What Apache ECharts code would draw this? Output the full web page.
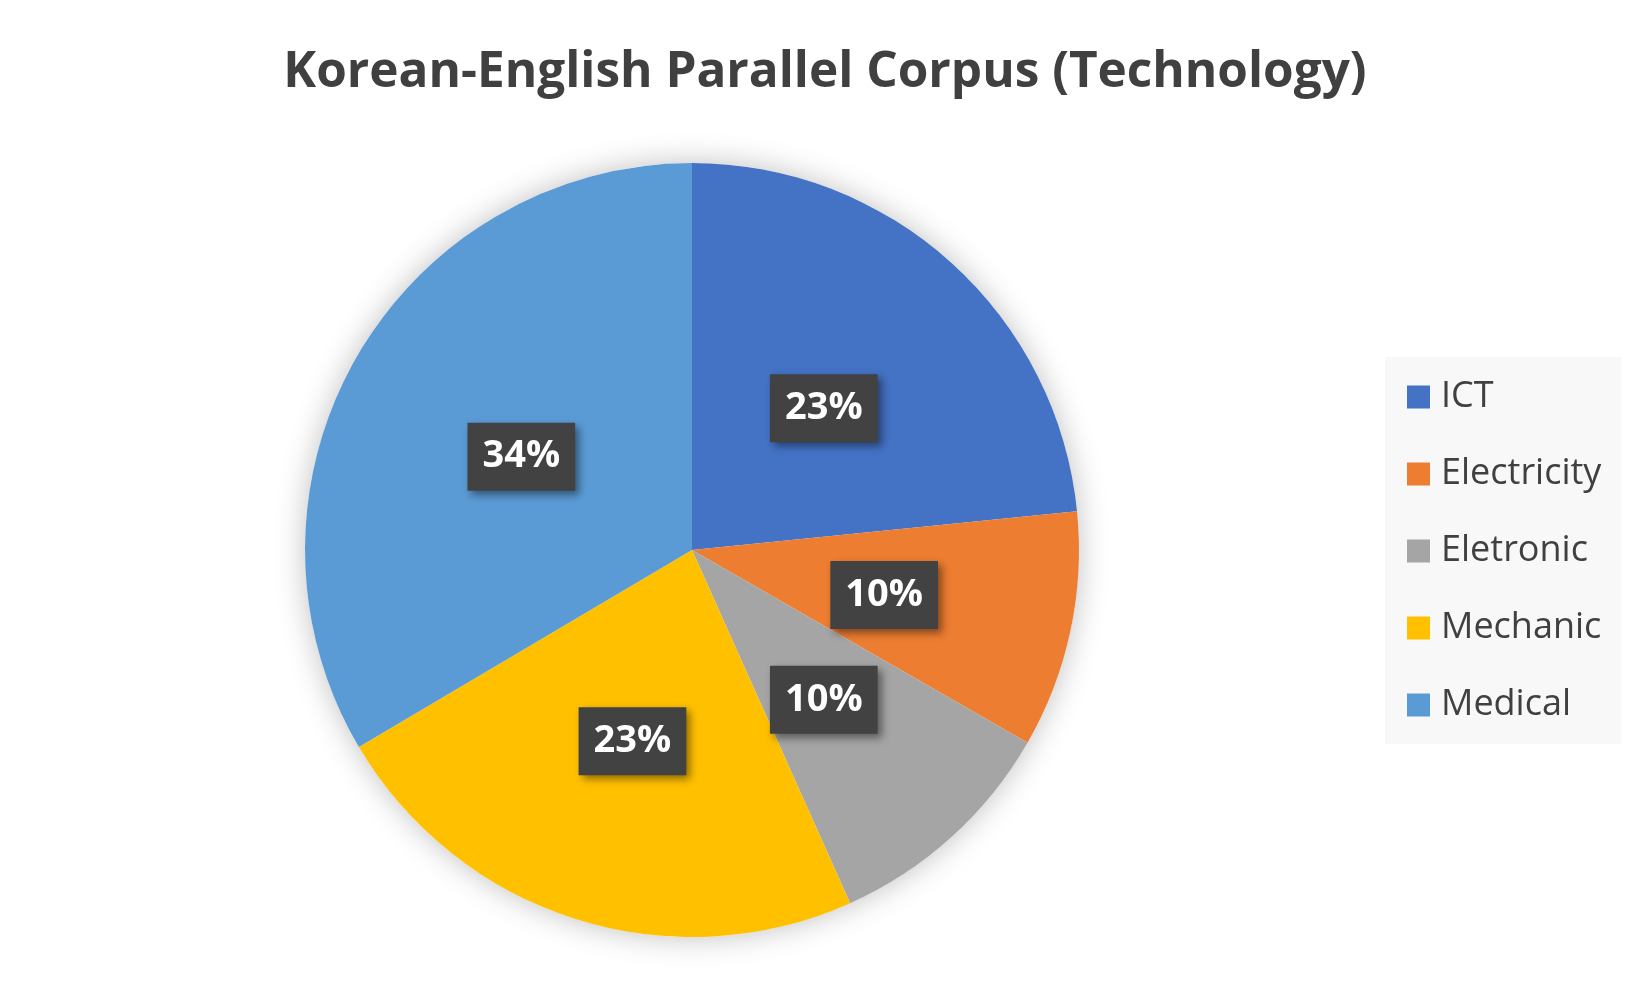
<!DOCTYPE html>
<html>
<head>
    <meta charset="utf-8">
    <title>Korean-English Parallel Corpus</title>
    <script src="https://cdn.jsdelivr.net/npm/echarts@6/dist/echarts.min.js"></script>
    <style>
        html, body { margin: 0; padding: 0; background: #ffffff; }
        #chart { width: 1650px; height: 990px; }
    </style>
</head>
<body>
<div id="chart"></div>
<script>
    // 数据
    var categories = ['ICT', 'Electricity', 'Eletronic', 'Mechanic', 'Medical'];
    var shares = [23.4, 9.9, 10.0, 23.2, 33.5];
    var colors = ['#4472C4', '#ED7D31', '#A5A5A5', '#FFC000', '#5B9BD5'];

    var pieData = categories.map(function (name, i) {
        return { name: name, value: shares[i], itemStyle: { color: colors[i] } };
    });
    var total = shares.reduce(function (a, b) { return a + b; }, 0);

    var chart = echarts.init(document.getElementById('chart'));
    var option = {
        backgroundColor: '#ffffff',
        animation: false,
        title: {
            text: 'Korean-English Parallel Corpus (Technology)',
            left: 'center',
            top: 43,
            textStyle: {
                fontFamily: 'Open Sans',
                fontWeight: 'bold',
                fontSize: 49.5,
                color: '#404040'
            }
        },
        legend: {
            orient: 'vertical',
            left: 1385,
            top: 357,
            backgroundColor: '#f8f8f8',
            padding: [20, 20, 19, 22],
            itemWidth: 23,
            itemHeight: 23,
            itemGap: 37,
            icon: 'rect',
            textStyle: {
                fontFamily: 'Open Sans',
                fontSize: 36,
                lineHeight: 40,
                padding: [0, 0, 0, 6],
                color: '#404040'
            },
            data: categories
        },
        series: [
            {
                // 阴影底层
                type: 'pie',
                silent: true,
                center: [692, 550],
                radius: 387,
                z: 1,
                label: { show: false },
                labelLine: { show: false },
                itemStyle: {
                    color: '#ffffff',
                    shadowBlur: 30,
                    shadowColor: 'rgba(0,0,0,0.25)'
                },
                data: [{ name: '', value: total }]
            },
            {
                type: 'pie',
                center: [692, 550],
                radius: 387,
                startAngle: 90,
                clockwise: true,
                z: 2,
                label: {
                    show: true,
                    position: 'inside',
                    formatter: function (p) { return Math.round(p.percent) + '%'; },
                    fontFamily: 'Open Sans',
                    fontWeight: 'bold',
                    fontSize: 38,
                    color: '#ffffff',
                    backgroundColor: '#424242',
                    padding: [16, 15, 14, 15],
                    shadowBlur: 8,
                    shadowColor: 'rgba(0,0,0,0.45)',
                    shadowOffsetX: 4,
                    shadowOffsetY: 4,
                    offset: [0, 4]
                },
                labelLine: { show: false },
                emphasis: { scale: false },
                data: pieData
            }
        ]
    };
    chart.setOption(option);

    window.onresize = function () {
        chart.resize();
    };
</script>
</body>
</html>
